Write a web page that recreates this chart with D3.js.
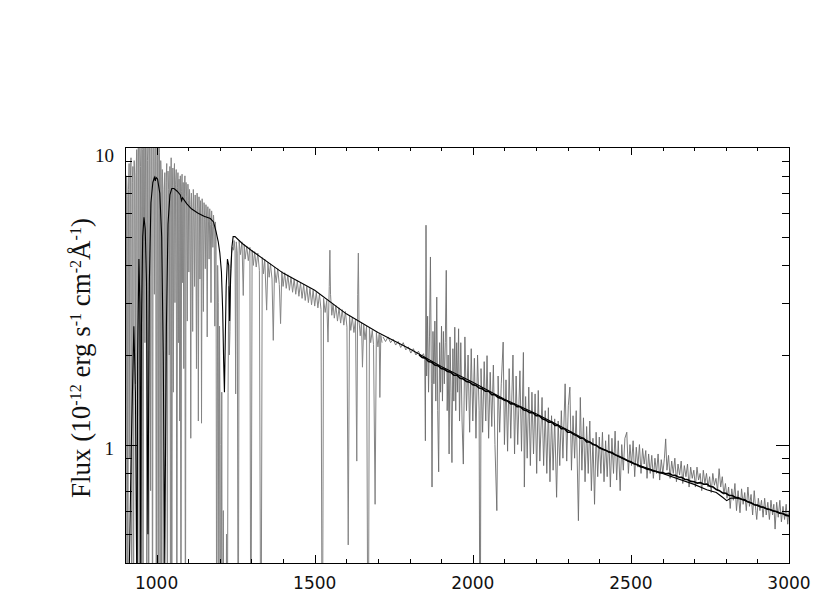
<!DOCTYPE html>
<meta charset="utf-8">
<style>
body { margin: 0; background: #fff; }
.frame { fill: none; stroke: #000; stroke-width: 1px; shape-rendering: crispEdges; }
.tick { stroke: #000; stroke-width: 1px; shape-rendering: crispEdges; }
.hires { fill: none; stroke: #858585; stroke-width: 1px; }
.iue { fill: none; stroke: #6c6c6c; stroke-width: 0.9px; }
.smooth { fill: none; stroke: #000; stroke-width: 1.6px; }
.model { fill: none; stroke: #000; stroke-width: 1.1px; }
</style>
<body>
<svg id="chart" width="830" height="593"></svg>
<script src="https://d3js.org/d3.v7.min.js"></script>
<script>

// wavelength (A), flux (1e-12 erg/s/cm2/A)

// high-resolution far-UV spectrum (grey, many absorption lines)
const hiresSpec = [
  [900,5.5],[901.5,7.5],[903,0.1],[905,8.0],[907,6.8],[909,0.1],[911,7.2],[913,8.8],[915,0.9],[917,8.0],
  [919,9.2],[921,0.1],[923,7.6],[925,8.6],[927,0.1],[929,9.0],[931,7.8],[933,1.6],[935,8.2],[937,9.8],
  [939,0.1],[941,9.4],[943,11],[945,0.1],[947,10.5],[949,8.6],[951,0.3],[953,11.5],[955,9.8],[957,0.1],
  [959,12],[961,10.2],[963,2.2],[965,11],[967,12.5],[969,0.1],[971,9.0],[973,10.5],[975,0.1],[977,12],
  [979,10.5],[981,0.7],[983,11.8],[985,10.6],[987,0.1],[989,12.5],[991,11],[993,3.2],[995,10.8],[997,12.4],
  [999,0.1],[1001,11.2],[1003,10],[1005,0.1],[1007,10.8],[1009,9.6],[1011,0.1],
  [1013,9.0],[1014.5,7.8],[1016,0.1],[1018,8.4],[1020,7.2],[1022,0.1],[1024,7.0],[1026,8.2],[1028,1.0],
  [1030,7.6],[1032,8.8],[1034,0.1],[1036,8.3],[1038,7.2],[1040,2.0],[1042,8.6],[1044,0.1],[1046,9.2],
  [1048,0.1],[1050,7.4],[1051.5,8.5],[1053,1.5],[1055,7.8],[1056.5,8.8],[1058,3.0],[1060,7.5],[1062,8.4],
  [1064,0.1],[1066,7.3],[1067.5,8.2],[1069,2.2],[1071,7.8],[1073,1.2],[1075,8.0],[1077,0.1],[1079,7.1],
  [1080.5,8.1],[1082,3.5],[1084,7.6],[1086,1.8],[1088,7.0],[1089.5,8.0],[1091,0.1],[1093,7.6],[1095,6.8],
  [1097,2.6],[1099,7.5],[1100.5,6.6],[1102,3.8],[1104,7.2],[1106,6.4],[1108,1.05],[1110,7.0],[1112,6.2],
  [1114,2.4],[1116,7.2],[1118,6.3],[1120,3.4],[1122,6.9],[1124,6.0],[1126,1.8],[1128,7.0],[1130,6.2],
  [1132,1.2],[1134,6.8],[1135.5,6.0],[1137,3.6],[1139,6.6],[1140.5,5.8],[1142,1.18],[1144,6.7],[1146,5.9],
  [1148,2.8],[1150,6.5],[1152,5.7],[1154,3.9],[1156,6.4],[1158,5.8],[1160,2.3],[1162,6.3],[1164,5.6],
  [1166,4.2],[1168,6.2],[1170,5.5],[1172,3.0],[1174,6.1],[1176,5.4],[1178,4.6],[1180,5.9],[1182,5.3],
  [1184,2.5],[1186,5.6],[1188,4.8],
  [1190,0.1],[1193,4.0],[1195,3.0],[1197,0.1],[1199,2.5],[1201,1.0],[1203,0.1],[1206,1.5],[1208,0.1],
  [1211,0.6],[1214,0.1],[1218,0.1],[1221,0.5],[1223,0.1],[1226,1.5],[1228,3.4],[1230,2.0],[1232,2.4],
  [1234,3.9],[1237,4.4],[1240,4.6],[1243,4.5],[1245,4.85],[1248,4.5],[1250,1.48],[1252,4.8],
  [1255,4.4],[1258,0.1],[1261,4.85],[1265,4.35],[1270,4.8],[1274,3.17],[1277,4.7],[1280,4.2],[1285,4.65],
  [1290,4.15],[1295,4.6],[1298,0.1],[1302,4.5],[1306,4.0],[1310,4.45],[1315,3.95],[1320,4.4],[1325,3.85],
  [1330,0.1],[1334,4.25],[1338,3.75],[1342,4.2],[1348,2.83],[1352,4.1],[1356,3.65],[1360,4.05],[1365,3.6],
  [1369,2.24],[1373,3.95],[1378,3.5],[1383,3.9],[1388,3.45],[1392,2.55],[1396,3.82],[1400,3.4],[1405,3.78],
  [1410,3.35],[1415,3.72],[1420,3.3],[1425,3.66],[1430,3.25],[1435,3.6],[1440,3.2],[1445,3.55],[1450,3.15],
  [1455,3.5],[1460,3.1],[1465,3.45],[1470,3.05],[1475,3.4],[1480,3.0],[1485,3.35],[1490,2.95],[1495,3.3],
  [1500,2.92],[1505,3.25],[1510,2.88],[1515,3.2],[1520,2.84],[1524,0.1],[1528,3.1],[1533,2.78],[1538,3.05],
  [1542,2.21],[1546,3.4],[1548,4.5],[1550,3.2],[1554,2.72],[1558,2.97],[1562,2.66],[1567,2.93],[1572,2.6],
  [1577,2.88],[1582,2.56],[1587,2.84],[1592,2.52],[1597,2.8],[1602,2.48],[1606,0.46],[1610,2.72],[1614,2.42],
  [1619,2.68],[1624,2.38],[1629,2.64],[1633,0.88],[1636,3.2],[1638,4.4],[1640,2.62],[1644,2.32],[1648,2.57],
  [1651,1.82],[1655,2.53],[1659,2.25],[1664,2.5],[1669,0.1],[1673,2.46],[1677,2.2],[1682,2.42],[1686,2.17],
  [1691,0.63],[1695,2.38],[1700,2.13],[1704,2.35],[1706,1.44],[1709,2.33],[1713,2.2]
];

// low-resolution near-UV spectrum (dark grey, noisy)
const iueSpec = [
  [1716,2.3],[1724,2.22],[1732,2.3],[1740,2.2],[1748,2.26],[1756,2.16],[1764,2.22],[1772,2.12],[1780,2.2],
  [1788,2.08],[1796,2.13],[1804,2.03],[1812,2.1],[1820,2.0],[1828,2.06],[1836,1.97],[1844,2.02],
  [1848,1.95],[1850,1.03],[1852,5.46],[1854,1.7],[1857,2.7],[1860,1.5],[1863,2.3],[1866,4.27],[1869,1.6],
  [1871,0.72],[1874,2.4],[1877,1.6],[1880,2.6],[1883,1.4],[1886,3.13],[1889,1.3],[1892,0.81],[1895,2.2],
  [1898,1.5],[1901,2.5],[1904,1.4],[1907,2.4],[1910,1.6],[1913,2.2],[1916,3.85],[1919,1.3],[1922,2.0],
  [1925,0.93],[1928,2.3],[1931,1.5],[1934,0.87],[1937,2.1],[1940,1.4],[1943,2.48],[1946,1.3],[1949,2.2],
  [1952,1.5],[1955,2.45],[1958,1.2],[1962,2.2],[1966,1.2],[1970,0.86],[1975,2.3],[1980,1.3],[1985,2.0],
  [1990,1.1],[1995,2.1],[2000,1.2],[2005,1.95],[2010,1.05],[2015,2.0],[2020,1.3],[2023,0.1],[2026,1.8],
  [2031,1.1],[2036,1.9],[2041,1.2],[2045,1.99],[2050,1.05],[2055,1.75],[2060,1.15],[2065,1.85],[2070,1.0],
  [2076,0.6],[2080,1.7],[2085,1.1],[2090,1.6],[2096,2.21],[2100,1.0],[2105,1.65],[2110,0.95],[2115,1.8],
  [2120,1.05],[2127,2.0],[2132,0.93],[2137,1.7],[2142,1.0],[2149,1.77],[2154,0.95],[2160,2.04],[2163,0.72],
  [2167,1.45],[2172,0.9],[2177,1.56],[2182,0.85],[2187,1.5],[2192,0.93],[2197,1.48],[2202,0.8],[2207,1.52],
  [2212,0.88],[2219,1.44],[2224,0.85],[2229,1.3],[2234,0.8],[2239,1.33],[2244,0.75],[2249,1.25],[2254,0.82],
  [2259,1.22],[2265,0.665],[2270,1.2],[2275,0.85],[2280,1.3],[2285,0.9],[2292,1.6],[2297,0.88],[2302,1.35],
  [2307,1.56],[2312,0.82],[2317,1.25],[2322,0.9],[2327,1.3],[2334,0.555],[2340,1.44],[2345,0.82],[2350,1.23],
  [2355,0.75],[2360,1.15],[2365,0.8],[2370,1.2],[2375,0.7],[2380,1.05],[2385,0.63],[2390,1.1],[2395,0.78],
  [2400,1.06],[2405,0.8],[2410,1.1],[2415,0.75],[2420,1.03],[2425,0.78],[2430,1.08],[2435,0.72],[2440,1.05],
  [2445,0.8],[2450,1.11],[2455,0.76],[2460,1.03],[2466,0.7],[2471,1.0],[2476,0.82],[2481,1.05],[2487,1.1],
  [2492,0.8],[2497,1.0],[2502,0.85],[2507,1.03],[2512,0.78],[2517,0.98],[2522,0.84],[2527,1.0],[2532,0.8],
  [2537,0.97],[2542,0.86],[2547,0.955],[2551,0.77],[2556,0.93],[2561,0.8],[2566,0.92],[2571,0.77],[2576,0.9],
  [2581,0.8],[2586,0.93],[2591,0.76],[2596,0.89],[2601,0.8],[2606,0.9],[2610,1.045],[2614,0.82],[2619,0.92],
  [2624,0.77],[2629,0.88],[2634,0.8],[2639,0.9],[2644,0.75],[2649,0.86],[2654,0.79],[2659,0.88],[2664,0.74],
  [2669,0.85],[2674,0.78],[2679,0.86],[2684,0.72],[2689,0.84],[2694,0.77],[2699,0.82],[2704,0.72],[2709,0.84],
  [2714,0.76],[2719,0.8],[2724,0.7],[2729,0.82],[2734,0.74],[2739,0.8],[2744,0.72],[2749,0.78],[2754,0.69],
  [2759,0.8],[2764,0.73],[2769,0.77],[2774,0.7],[2779,0.83],[2784,0.72],[2789,0.78],[2794,0.68],[2799,0.74],
  [2804,0.66],[2809,0.72],[2814,0.61],[2819,0.71],[2824,0.65],[2829,0.74],[2834,0.6],[2839,0.7],[2845,0.59],
  [2850,0.71],[2855,0.63],[2860,0.69],[2865,0.6],[2870,0.72],[2875,0.62],[2880,0.68],[2885,0.58],[2890,0.7],
  [2895,0.6],[2898,0.56],[2903,0.66],[2908,0.6],[2913,0.65],[2918,0.57],[2923,0.66],[2928,0.58],[2933,0.64],
  [2938,0.56],[2943,0.65],[2948,0.58],[2952,0.63],[2956,0.52],[2961,0.64],[2966,0.57],[2971,0.65],[2976,0.55],
  [2981,0.62],[2986,0.56],[2991,0.63],[2996,0.54],[3000,0.6]
];

// smoothed near-UV spectrum (thick black)
const smoothSpec = [
  [1830,2.0],[1840,1.96],[1850,1.95],[1860,1.90],[1870,1.89],[1880,1.85],[1890,1.84],[1900,1.80],[1910,1.79],
  [1920,1.76],[1930,1.75],[1940,1.71],[1950,1.71],[1960,1.67],[1970,1.66],[1980,1.63],[1990,1.62],[2000,1.59],
  [2010,1.58],[2020,1.55],[2030,1.54],[2040,1.51],[2050,1.51],[2060,1.47],[2070,1.47],[2080,1.44],[2090,1.43],
  [2100,1.41],[2110,1.40],[2120,1.37],[2130,1.37],[2140,1.34],[2150,1.34],[2160,1.31],[2170,1.30],[2180,1.28],
  [2190,1.28],[2200,1.25],[2210,1.25],[2220,1.22],[2230,1.21],[2240,1.19],[2250,1.19],[2260,1.16],[2270,1.16],
  [2280,1.13],[2290,1.13],[2300,1.10],[2310,1.10],[2320,1.08],[2330,1.07],[2340,1.05],[2350,1.05],[2360,1.02],
  [2370,1.02],[2380,1.0],[2390,0.995],[2400,0.975],[2410,0.965],[2420,0.958],[2430,0.945],[2440,0.94],
  [2450,0.925],[2460,0.915],[2470,0.905],[2480,0.895],[2490,0.882],[2500,0.875],[2510,0.862],[2520,0.855],
  [2530,0.843],[2540,0.838],[2550,0.828],[2560,0.824],[2570,0.815],[2580,0.812],[2590,0.805],[2600,0.806],
  [2610,0.798],[2620,0.80],[2630,0.79],[2640,0.788],[2650,0.778],[2660,0.776],[2670,0.765],[2680,0.762],
  [2690,0.752],[2700,0.75],[2710,0.742],[2720,0.745],[2730,0.736],[2740,0.737],[2750,0.724],[2760,0.72],
  [2770,0.706],[2780,0.70],[2790,0.688],[2800,0.686],[2810,0.676],[2820,0.674],[2830,0.665],[2840,0.662],
  [2850,0.655],[2860,0.652],[2870,0.642],[2880,0.638],[2890,0.628],[2900,0.626],[2910,0.618],[2920,0.616],
  [2930,0.607],[2940,0.605],[2950,0.598],[2960,0.596],[2970,0.588],[2980,0.587],[2990,0.578],[3000,0.576]
];

// model atmosphere (thin black)
const modelSpec = [
  [900,0.3],[912,0.3],[920,1.0],[928,2.5],[933,1.5],[936,0.5],[938,0.3],[940,2.0],[944,4.2],[947,3.0],
  [949.7,0.4],[952,2.5],[956,5.0],[960,5.8],[964,5.3],[968,3.5],[972.5,0.5],[977,3.5],[982,6.5],[988,7.6],
  [993,7.9],[996,7.7],[998,7.9],[1003,7.8],[1010,7.0],[1016,5.0],[1021,2.0],[1025.7,0.4],[1031,2.5],
  [1036,5.5],[1042,6.9],[1048,7.25],[1055,7.25],[1065,7.1],[1075,6.9],[1079,6.6],[1082,6.75],[1095,6.45],
  [1110,6.2],[1130,6.0],[1150,5.85],[1170,5.75],[1180,5.6],[1188,5.2],[1195,4.8],[1200,4.4],[1205,3.8],
  [1209,2.8],[1212,1.9],[1214.5,1.5],[1217,2.2],[1220,3.4],[1224,4.2],[1228,4.0],[1231,2.6],[1234,3.6],
  [1238,4.6],[1242,5.0],[1248,5.0],[1270,4.75],[1300,4.49],[1400,3.77],[1500,3.3],[1600,2.75],[1700,2.38],
  [1800,2.1],[1900,1.83],[2000,1.62],[2100,1.42],[2200,1.27],[2300,1.12],[2400,0.98],[2500,0.87],[2600,0.80],
  [2700,0.735],[2740,0.705],[2770,0.69],[2790,0.665],[2803,0.648],[2815,0.66],[2830,0.662],[2850,0.655],
  [2900,0.623],[3000,0.577]
];

const xMajor = [1000, 1500, 2000, 2500, 3000];
const xLabels = ["1000", "1500", "2000", "2500", "3000"];
const yMajor = [1, 10];
const yLabels = ["1", "10"];
const titleParts = [["Flux (10", 0], ["-12", 1], [" erg s", 0], ["-1", 1], [" cm", 0], ["-2", 1], ["\u00c5", 0], ["-1", 1], [")", 0]];

const mLeft = 125, mRight = 789, mTop = 147, mBottom = 563;

const svg = d3.select("#chart");
svg.append("rect").attr("width", 830).attr("height", 593).attr("fill", "#fff");

const x = d3.scaleLinear().domain([900, 3000]).range([mLeft, mRight]);
const y = d3.scaleLog().domain([0.4, 10]).range([mBottom, mTop]);

svg.append("clipPath").attr("id", "plot")
  .append("rect").attr("x", mLeft).attr("y", mTop)
  .attr("width", mRight - mLeft).attr("height", mBottom - mTop);

const line = d3.line().x(d => x(d[0])).y(d => y(d[1]));
const g = svg.append("g").attr("clip-path", "url(#plot)");

g.append("path").attr("class", "hires").attr("d", line(hiresSpec));
g.append("path").attr("class", "iue").attr("d", line(iueSpec));
g.append("path").attr("class", "smooth").attr("d", line(smoothSpec));
g.append("path").attr("class", "model").attr("d", line(modelSpec));

// frame
svg.append("rect").attr("class", "frame")
  .attr("x", mLeft).attr("y", mTop).attr("width", mRight - mLeft).attr("height", mBottom - mTop);

// x ticks, every 100 A, long at the labelled ones
const xt = d3.range(900, 3001, 100);
const ticks = svg.append("g");
xt.forEach(v => {
  const len = xMajor.includes(v) ? 8 : 4;
  const px = Math.round(x(v)) + 0.5;
  ticks.append("line").attr("class", "tick").attr("x1", px).attr("x2", px).attr("y1", mBottom).attr("y2", mBottom - len);
  ticks.append("line").attr("class", "tick").attr("x1", px).attr("x2", px).attr("y1", mTop).attr("y2", mTop + len);
});

// y ticks (log)
y.ticks().forEach(v => {
  if (v <= 0.4) return;
  const len = yMajor.includes(v) ? 13 : 7;
  const py = Math.round(y(v)) + 0.5;
  ticks.append("line").attr("class", "tick").attr("x1", mLeft).attr("x2", mLeft + len).attr("y1", py).attr("y2", py);
  ticks.append("line").attr("class", "tick").attr("x1", mRight).attr("x2", mRight - len).attr("y1", py).attr("y2", py);
});

svg.append("g").selectAll("text").data(xMajor).join("text")
  .attr("x", d => x(d)).attr("y", 589)
  .attr("text-anchor", "middle")
  .attr("font-family", "DejaVu Sans").attr("font-size", 17).attr("fill", "#111")
  .text((d, i) => xLabels[i]);

svg.append("g").selectAll("text").data(yMajor).join("text")
  .attr("x", 114).attr("y", d => Math.max(y(d) + 10, 162))
  .attr("text-anchor", "end")
  .attr("font-family", "Liberation Serif").attr("font-size", 19).attr("fill", "#111")
  .text((d, i) => yLabels[i]);

const title = svg.append("text")
  .attr("transform", "translate(90,358) rotate(-90)")
  .attr("text-anchor", "middle")
  .attr("font-family", "Liberation Serif").attr("font-size", 27).attr("fill", "#111")
  .style("white-space", "pre");
let raised = 0;
titleParts.forEach(([s, sup]) => {
  const t = title.append("tspan").text(s);
  if (sup && !raised) t.attr("dy", -9).attr("font-size", 16);
  else if (sup) t.attr("font-size", 16);
  if (!sup && raised) t.attr("dy", 9);
  raised = sup;
});

</script>
